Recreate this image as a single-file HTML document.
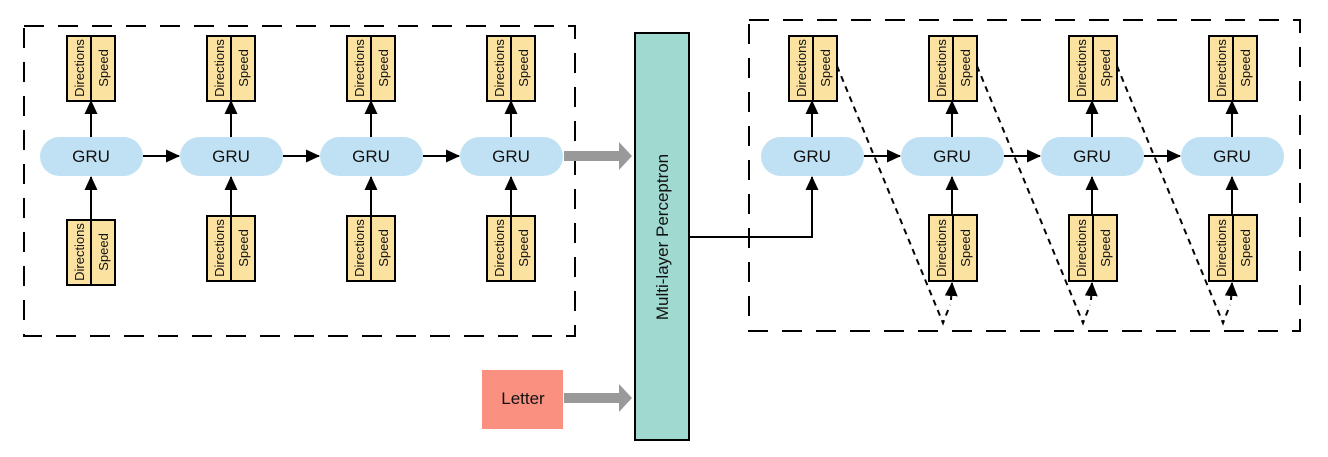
<!DOCTYPE html>
<html><head><meta charset="utf-8"><style>
body{margin:0;background:#fff}
svg{display:block;font-family:"Liberation Sans",Arial,sans-serif}
.y{fill:#fbe2a0;stroke:#000;stroke-width:2}
.g{fill:#bfe1f3}
.gt{font-size:17px;fill:#111;text-anchor:middle}
.s{font-size:13px;fill:#111;text-anchor:middle}
.a{stroke:#000;stroke-width:2;fill:none}
.d{stroke:#000;stroke-width:2;fill:none;stroke-dasharray:6,5}
.box{stroke:#000;stroke-width:2;fill:none;stroke-dasharray:20,14}
</style></head><body>
<svg width="1328" height="457" viewBox="0 0 1328 457">
<defs>
<marker id="mv" markerWidth="14" markerHeight="14" refX="13" refY="7" orient="auto" markerUnits="userSpaceOnUse"><path d="M0,0.5 L14,7 L0,13.5 z" fill="#000"/></marker></defs>
<rect class="box" x="24" y="26" width="551" height="310"/>
<rect class="box" x="749" y="20" width="551" height="311"/>

<rect class="g" x="40" y="137" width="103" height="39" rx="19.5"/><text class="gt" x="91" y="162">GRU</text>
<rect class="g" x="180" y="137" width="103" height="39" rx="19.5"/><text class="gt" x="231" y="162">GRU</text>
<rect class="g" x="320" y="137" width="103" height="39" rx="19.5"/><text class="gt" x="371" y="162">GRU</text>
<rect class="g" x="460" y="137" width="103" height="39" rx="19.5"/><text class="gt" x="511" y="162">GRU</text>
<line class="a" x1="143" y1="156" x2="179" y2="156" marker-end="url(#mv)"/>
<line class="a" x1="283" y1="156" x2="319" y2="156" marker-end="url(#mv)"/>
<line class="a" x1="423" y1="156" x2="459" y2="156" marker-end="url(#mv)"/>
<line class="a" x1="91" y1="137" x2="91" y2="101" marker-end="url(#mv)"/>
<line class="a" x1="231" y1="137" x2="231" y2="101" marker-end="url(#mv)"/>
<line class="a" x1="371" y1="137" x2="371" y2="101" marker-end="url(#mv)"/>
<line class="a" x1="511" y1="137" x2="511" y2="101" marker-end="url(#mv)"/>
<line class="a" x1="91" y1="220" x2="91" y2="177" marker-end="url(#mv)"/>
<line class="a" x1="231" y1="216" x2="231" y2="177" marker-end="url(#mv)"/>
<line class="a" x1="371" y1="216" x2="371" y2="177" marker-end="url(#mv)"/>
<line class="a" x1="511" y1="216" x2="511" y2="177" marker-end="url(#mv)"/>

<rect class="y" x="67" y="36" width="24" height="65"/><rect class="y" x="91" y="36" width="24" height="65"/>
<text class="s" transform="translate(84,68) rotate(-90)">Directions</text><text class="s" transform="translate(108,68) rotate(-90)">Speed</text>
<rect class="y" x="207" y="36" width="24" height="65"/><rect class="y" x="231" y="36" width="24" height="65"/>
<text class="s" transform="translate(224,68) rotate(-90)">Directions</text><text class="s" transform="translate(248,68) rotate(-90)">Speed</text>
<rect class="y" x="347" y="36" width="24" height="65"/><rect class="y" x="371" y="36" width="24" height="65"/>
<text class="s" transform="translate(364,68) rotate(-90)">Directions</text><text class="s" transform="translate(388,68) rotate(-90)">Speed</text>
<rect class="y" x="487" y="36" width="24" height="65"/><rect class="y" x="511" y="36" width="24" height="65"/>
<text class="s" transform="translate(504,68) rotate(-90)">Directions</text><text class="s" transform="translate(528,68) rotate(-90)">Speed</text>
<rect class="y" x="67" y="220" width="24" height="65"/><rect class="y" x="91" y="220" width="24" height="65"/>
<text class="s" transform="translate(84,252) rotate(-90)">Directions</text><text class="s" transform="translate(108,252) rotate(-90)">Speed</text>
<rect class="y" x="207" y="216" width="24" height="65"/><rect class="y" x="231" y="216" width="24" height="65"/>
<text class="s" transform="translate(224,248) rotate(-90)">Directions</text><text class="s" transform="translate(248,248) rotate(-90)">Speed</text>
<rect class="y" x="347" y="216" width="24" height="65"/><rect class="y" x="371" y="216" width="24" height="65"/>
<text class="s" transform="translate(364,248) rotate(-90)">Directions</text><text class="s" transform="translate(388,248) rotate(-90)">Speed</text>
<rect class="y" x="487" y="216" width="24" height="65"/><rect class="y" x="511" y="216" width="24" height="65"/>
<text class="s" transform="translate(504,248) rotate(-90)">Directions</text><text class="s" transform="translate(528,248) rotate(-90)">Speed</text>

<path d="M564,151 H619 V142 L632,156 L619,170 V161 H564 z" fill="#999"/>
<path d="M564,393 H619 V384 L632,398 L619,412 V403 H564 z" fill="#999"/>

<rect x="482" y="370" width="81" height="59" fill="#f99080"/>
<text x="523" y="404" font-size="17" text-anchor="middle" fill="#111">Letter</text>

<rect x="635" y="33" width="54" height="407" fill="#9fd9cf" stroke="#000" stroke-width="2"/>
<text transform="translate(668,237) rotate(-90)" font-size="17" text-anchor="middle" fill="#111">Multi-layer Perceptron</text>

<path class="a" d="M689,237 H812 V177" marker-end="url(#mv)"/>

<rect class="g" x="761" y="137" width="103" height="39" rx="19.5"/><text class="gt" x="812" y="162">GRU</text>
<rect class="g" x="901" y="137" width="103" height="39" rx="19.5"/><text class="gt" x="952" y="162">GRU</text>
<rect class="g" x="1041" y="137" width="103" height="39" rx="19.5"/><text class="gt" x="1092" y="162">GRU</text>
<rect class="g" x="1181" y="137" width="103" height="39" rx="19.5"/><text class="gt" x="1232" y="162">GRU</text>
<line class="a" x1="864" y1="156" x2="900" y2="156" marker-end="url(#mv)"/>
<line class="a" x1="1004" y1="156" x2="1040" y2="156" marker-end="url(#mv)"/>
<line class="a" x1="1144" y1="156" x2="1180" y2="156" marker-end="url(#mv)"/>
<line class="a" x1="812" y1="137" x2="812" y2="101" marker-end="url(#mv)"/>
<line class="a" x1="952" y1="137" x2="952" y2="101" marker-end="url(#mv)"/>
<line class="a" x1="1092" y1="137" x2="1092" y2="101" marker-end="url(#mv)"/>
<line class="a" x1="1232" y1="137" x2="1232" y2="101" marker-end="url(#mv)"/>
<line class="a" x1="952" y1="215" x2="952" y2="177" marker-end="url(#mv)"/>
<line class="a" x1="1092" y1="215" x2="1092" y2="177" marker-end="url(#mv)"/>
<line class="a" x1="1232" y1="215" x2="1232" y2="177" marker-end="url(#mv)"/>

<path class="d" d="M837,66 L943,323 L950,305"/><path class="a" d="M951,300 L952,283" marker-end="url(#mv)"/>
<path class="d" d="M977,66 L1083,323 L1090,305"/><path class="a" d="M1091,300 L1092,283" marker-end="url(#mv)"/>
<path class="d" d="M1117,66 L1223,323 L1230,305"/><path class="a" d="M1231,300 L1232,283" marker-end="url(#mv)"/>

<rect class="y" x="789" y="36" width="24" height="65"/><rect class="y" x="813" y="36" width="24" height="65"/>
<text class="s" transform="translate(806,68) rotate(-90)">Directions</text><text class="s" transform="translate(830,68) rotate(-90)">Speed</text>
<rect class="y" x="929" y="36" width="24" height="65"/><rect class="y" x="953" y="36" width="24" height="65"/>
<text class="s" transform="translate(946,68) rotate(-90)">Directions</text><text class="s" transform="translate(970,68) rotate(-90)">Speed</text>
<rect class="y" x="1069" y="36" width="24" height="65"/><rect class="y" x="1093" y="36" width="24" height="65"/>
<text class="s" transform="translate(1086,68) rotate(-90)">Directions</text><text class="s" transform="translate(1110,68) rotate(-90)">Speed</text>
<rect class="y" x="1209" y="36" width="24" height="65"/><rect class="y" x="1233" y="36" width="24" height="65"/>
<text class="s" transform="translate(1226,68) rotate(-90)">Directions</text><text class="s" transform="translate(1250,68) rotate(-90)">Speed</text>
<rect class="y" x="929" y="215" width="24" height="66"/><rect class="y" x="953" y="215" width="24" height="66"/>
<text class="s" transform="translate(946,248) rotate(-90)">Directions</text><text class="s" transform="translate(970,248) rotate(-90)">Speed</text>
<rect class="y" x="1069" y="215" width="24" height="66"/><rect class="y" x="1093" y="215" width="24" height="66"/>
<text class="s" transform="translate(1086,248) rotate(-90)">Directions</text><text class="s" transform="translate(1110,248) rotate(-90)">Speed</text>
<rect class="y" x="1209" y="215" width="24" height="66"/><rect class="y" x="1233" y="215" width="24" height="66"/>
<text class="s" transform="translate(1226,248) rotate(-90)">Directions</text><text class="s" transform="translate(1250,248) rotate(-90)">Speed</text>
</svg>
</body></html>
